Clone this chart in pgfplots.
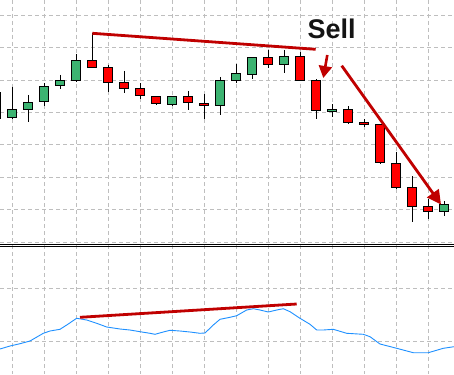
\documentclass[border=0pt]{standalone}
\usepackage{pgfplots}
\pgfplotsset{compat=1.18}
\usepackage{fontspec}
\setmainfont{Liberation Sans}
\usetikzlibrary{arrows.meta}
\definecolor{cgreen}{RGB}{60,179,113}
\definecolor{cred}{RGB}{255,0,0}
\definecolor{trend}{RGB}{192,0,0}
\definecolor{gridc}{RGB}{190,190,190}
\definecolor{ind}{RGB}{30,144,255}
\begin{document}
\begin{tikzpicture}
\begin{axis}[
  scale only axis, width=454pt, height=374pt,
  xmin=0, xmax=454, ymin=0, ymax=374, y dir=reverse,
  axis line style={draw=none},
  major tick length=0pt,
  xtick={12.3,44.3,76.3,108.3,140.3,172.3,204.3,236.3,268.3,300.3,332.3,364.3,396.3,428.3},
  ytick={15,47.5,80,112.4,144.9,177.4,209.8,242.3,288.3,341.3},
  xticklabels={}, yticklabels={},
  tick label style={inner sep=0pt, outer sep=0pt},
  grid=major,
  grid style={gridc, line width=0.9pt, dash pattern=on 4pt off 3pt},
  axis background/.style={fill=white},
  clip=true,
  unbounded coords=jump,
]
% separator double line
\addplot[black, line width=0.9pt] coordinates {(0,244.3)(454,244.3)};
\addplot[black, line width=0.9pt] coordinates {(0,246.6)(454,246.6)};

% wicks
\addplot[black, line width=1pt] coordinates {
(-3.7,88)(-3.7,121) (-3.7,nan)
(12.3,86.7)(12.3,119.3) (12.3,nan)
(28.3,95)(28.3,121.7) (28.3,nan)
(44.3,83.3)(44.3,106) (44.3,nan)
(60.3,75)(60.3,88.7) (60.3,nan)
(76.3,54)(76.3,81.7) (76.3,nan)
(92.3,33.3)(92.3,67.3) (92.3,nan)
(108.3,65)(108.3,91.7) (108.3,nan)
(124.3,71)(124.3,92.7) (124.3,nan)
(140.3,83.3)(140.3,99.3) (140.3,nan)
(156.3,96.3)(156.3,104.7) (156.3,nan)
(172.3,96.3)(172.3,106.3) (172.3,nan)
(188.3,91)(188.3,109.7) (188.3,nan)
(204.3,94.3)(204.3,119.3) (204.3,nan)
(220.3,77)(220.3,114.7) (220.3,nan)
(236.3,64)(236.3,83.3) (236.3,nan)
(252.3,57.3)(252.3,79) (252.3,nan)
(268.3,50)(268.3,68) (268.3,nan)
(284.3,50)(284.3,73.3) (284.3,nan)
(300.3,52)(300.3,80.3) (300.3,nan)
(316.3,79.3)(316.3,118.7) (316.3,nan)
(332.3,104.3)(332.3,116.7) (332.3,nan)
(348.3,106.3)(348.3,124.3) (348.3,nan)
(364.3,119.3)(364.3,127.3) (364.3,nan)
(380.3,124.3)(380.3,164.3) (380.3,nan)
(396.3,151.7)(396.3,189.3) (396.3,nan)
(412.3,176.3)(412.3,222.3) (412.3,nan)
(428.3,199.3)(428.3,219.3) (428.3,nan)
(444.3,201.3)(444.3,216.3)
};

% bodies (x-4.6 .. x+4.6, open/close)
\addplot[fill=cred,   draw=black, line width=0.9pt] coordinates {(-8.3,92.3)(0.9,92.3)(0.9,118.3)(-8.3,118.3)} -- cycle;
\addplot[fill=cgreen, draw=black, line width=0.9pt] coordinates {(7.7,109)(16.9,109)(16.9,117.3)(7.7,117.3)} -- cycle;
\addplot[fill=cgreen, draw=black, line width=0.9pt] coordinates {(23.7,102.3)(32.9,102.3)(32.9,109.3)(23.7,109.3)} -- cycle;
\addplot[fill=cgreen, draw=black, line width=0.9pt] coordinates {(39.7,86.3)(48.9,86.3)(48.9,101.3)(39.7,101.3)} -- cycle;
\addplot[fill=cgreen, draw=black, line width=0.9pt] coordinates {(55.7,80.3)(64.9,80.3)(64.9,85.3)(55.7,85.3)} -- cycle;
\addplot[fill=cgreen, draw=black, line width=0.9pt] coordinates {(71.7,60.3)(80.9,60.3)(80.9,80.3)(71.7,80.3)} -- cycle;
\addplot[fill=cred,   draw=black, line width=0.9pt] coordinates {(87.7,60.3)(96.9,60.3)(96.9,67.3)(87.7,67.3)} -- cycle;
\addplot[fill=cred,   draw=black, line width=0.9pt] coordinates {(103.7,67.3)(112.9,67.3)(112.9,82.3)(103.7,82.3)} -- cycle;
\addplot[fill=cred,   draw=black, line width=0.9pt] coordinates {(119.7,82.3)(128.9,82.3)(128.9,88.3)(119.7,88.3)} -- cycle;
\addplot[fill=cred,   draw=black, line width=0.9pt] coordinates {(135.7,88.3)(144.9,88.3)(144.9,95.3)(135.7,95.3)} -- cycle;
\addplot[fill=cred,   draw=black, line width=0.9pt] coordinates {(151.7,96.3)(160.9,96.3)(160.9,103.3)(151.7,103.3)} -- cycle;
\addplot[fill=cgreen, draw=black, line width=0.9pt] coordinates {(167.7,96.3)(176.9,96.3)(176.9,104.3)(167.7,104.3)} -- cycle;
\addplot[fill=cred,   draw=black, line width=0.9pt] coordinates {(183.7,96.3)(192.9,96.3)(192.9,102.3)(183.7,102.3)} -- cycle;
\addplot[fill=cred,   draw=black, line width=0.9pt] coordinates {(199.7,103.3)(208.9,103.3)(208.9,105.3)(199.7,105.3)} -- cycle;
\addplot[fill=cgreen, draw=black, line width=0.9pt] coordinates {(215.7,80.3)(224.9,80.3)(224.9,105.3)(215.7,105.3)} -- cycle;
\addplot[fill=cgreen, draw=black, line width=0.9pt] coordinates {(231.7,73)(240.9,73)(240.9,80.3)(231.7,80.3)} -- cycle;
\addplot[fill=cgreen, draw=black, line width=0.9pt] coordinates {(247.7,57.3)(256.9,57.3)(256.9,74)(247.7,74)} -- cycle;
\addplot[fill=cred,   draw=black, line width=0.9pt] coordinates {(263.7,57.3)(272.9,57.3)(272.9,64.3)(263.7,64.3)} -- cycle;
\addplot[fill=cgreen, draw=black, line width=0.9pt] coordinates {(279.7,56.3)(288.9,56.3)(288.9,64.3)(279.7,64.3)} -- cycle;
\addplot[fill=cred,   draw=black, line width=0.9pt] coordinates {(295.7,56.3)(304.9,56.3)(304.9,80.3)(295.7,80.3)} -- cycle;
\addplot[fill=cred,   draw=black, line width=0.9pt] coordinates {(311.7,80.3)(320.9,80.3)(320.9,110.3)(311.7,110.3)} -- cycle;
\addplot[fill=cgreen, draw=black, line width=0.9pt] coordinates {(327.7,109.3)(336.9,109.3)(336.9,111.3)(327.7,111.3)} -- cycle;
\addplot[fill=cred,   draw=black, line width=0.9pt] coordinates {(343.7,109.3)(352.9,109.3)(352.9,122.3)(343.7,122.3)} -- cycle;
\addplot[fill=cred,   draw=black, line width=0.9pt] coordinates {(359.7,122.3)(368.9,122.3)(368.9,124.3)(359.7,124.3)} -- cycle;
\addplot[fill=cred,   draw=black, line width=0.9pt] coordinates {(375.7,124.3)(384.9,124.3)(384.9,162.3)(375.7,162.3)} -- cycle;
\addplot[fill=cred,   draw=black, line width=0.9pt] coordinates {(391.7,163.3)(400.9,163.3)(400.9,187.3)(391.7,187.3)} -- cycle;
\addplot[fill=cred,   draw=black, line width=0.9pt] coordinates {(407.7,187.3)(416.9,187.3)(416.9,206.3)(407.7,206.3)} -- cycle;
\addplot[fill=cred,   draw=black, line width=0.9pt] coordinates {(423.7,206.3)(432.9,206.3)(432.9,211.3)(423.7,211.3)} -- cycle;
\addplot[fill=cgreen, draw=black, line width=0.9pt] coordinates {(439.7,204.3)(448.9,204.3)(448.9,211.3)(439.7,211.3)} -- cycle;

% indicator
\addplot[ind, line width=0.9pt] coordinates {
(0,349)(10,346)(20,343.7)(30,341)(43.3,333.3)(50,331)(60,329.3)(66.7,325)(76.7,318.3)
(86.7,320)(96.7,323.3)(106.7,327)(120,329)(130,330)(140,331.7)(150,333.3)(155,334.3)
(163.3,332)(170,330.3)(180,331)(190,332)(200,333.3)(205,333)(213.3,325)(220,319.3)
(230,317.3)(236.7,315.7)(246.7,310)(253.3,308.7)(260,310)(268.3,312)(276.7,310)
(283.3,308.7)(290,311.7)(300,318.3)(310,324.3)(316.7,330)(323.3,330)(333.3,329.3)
(346.7,333.3)(363.3,334.3)(370,336.7)(380,344)(396.7,348.3)(413.3,352.7)(428.3,352.7)
(443.3,348.3)(454,346.7)
};

% trend lines and arrows
\addplot[trend, line width=2.8pt] coordinates {(92.3,33.3)(315.7,49.3)};
\addplot[trend, line width=2.8pt] coordinates {(80,317.3)(296.7,304)};
\addplot[trend, line width=2.6pt, -{Triangle[length=12pt,width=13pt]}] coordinates {(327.3,55)(323.3,78)};
\addplot[trend, line width=2.8pt, -{Triangle[length=14pt,width=14pt]}] coordinates {(341.7,65.7)(441,204.5)};

\node[font=\bfseries\fontsize{27}{27}\selectfont, text={rgb,255:red,20;green,20;blue,20}, inner sep=0pt] at (axis cs:331.7,28.5) {Sell};
\coordinate (BL) at (rel axis cs:0,0);
\coordinate (TR) at (rel axis cs:1,1);
\end{axis}
\pgfresetboundingbox
\path[use as bounding box] (BL) rectangle (TR);
\end{tikzpicture}
\end{document}
